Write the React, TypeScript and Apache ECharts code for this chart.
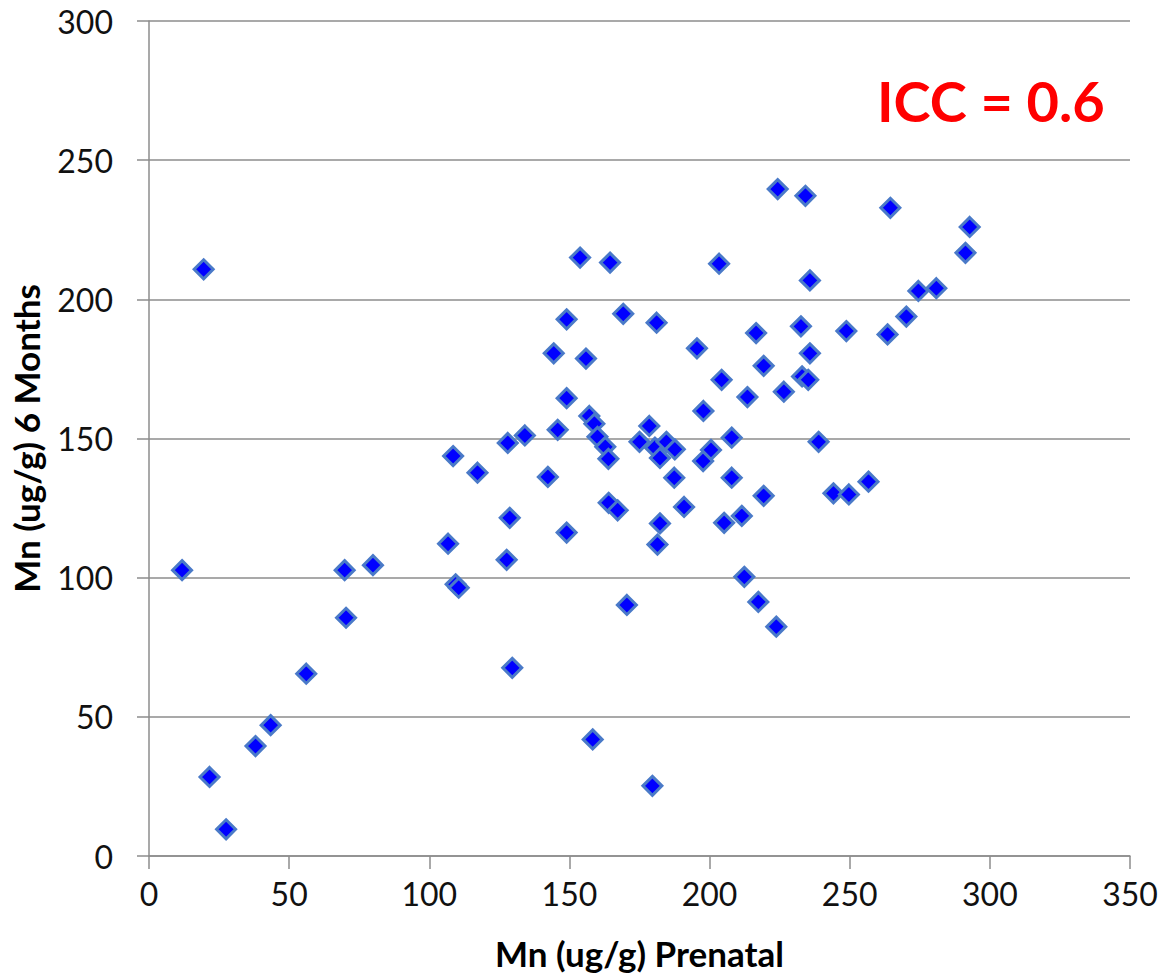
import React, { useEffect, useRef } from "react";
import * as echarts from "echarts";

const prenatal: number[] = [
  11.8, 19.5, 21.6, 27.5, 38, 43.4, 56.1, 69.8, 70.3, 79.9,
  106.7, 108.5, 109.4, 110.5, 117.2, 127.6, 128, 128.7, 129.6, 134.1,
  142.3, 144.4, 145.8, 149, 149, 149, 153.8, 155.9, 157.1, 158.3,
  158.9, 160, 162.8, 163.9, 164, 164.5, 167.2, 169.2, 170.5, 175,
  178.5, 179.6, 180.5, 181.1, 181.4, 182.3, 182.3, 184.6, 187.4, 187.6,
  190.9, 195.5, 197.7, 197.8, 200.5, 203.4, 204.3, 205.2, 207.9, 207.9,
  211.5, 212.4, 213.5, 216.6, 217.4, 219.3, 219.3, 223.8, 224.3, 226.5,
  232.6, 233, 234.2, 235.2, 235.8, 235.8, 238.9, 244.2, 248.8, 249.7,
  256.7, 263.5, 264.5, 270.2, 274.5, 280.9, 291.3, 292.8,
];

const sixMonths: number[] = [
  102.7, 210.8, 28.4, 9.6, 39.5, 47, 65.5, 102.7, 85.6, 104.5,
  112.2, 143.7, 97.6, 96.4, 137.7, 106.4, 148.4, 121.5, 67.6, 151.1,
  136.2, 180.6, 153.1, 192.8, 164.5, 116.2, 215, 178.7, 158.1, 41.9,
  155.3, 150.6, 147, 142.7, 126.9, 213.2, 124.2, 194.8, 90.2, 148.8,
  154.5, 25.2, 146.7, 191.6, 111.9, 143, 119.5, 148.8, 135.9, 146.1,
  125.4, 182.4, 141.9, 159.9, 145.9, 212.8, 171.1, 119.7, 150.3, 135.9,
  122.2, 100.3, 164.9, 187.9, 91.3, 176.1, 129.4, 82.4, 239.6, 166.8,
  190.3, 172.3, 237.2, 171.1, 206.8, 180.6, 148.8, 130.3, 188.6, 129.9,
  134.5, 187.4, 232.9, 193.8, 203, 204, 216.7, 226,
];

const xTitle = "Mn (ug/g) Prenatal";
const yTitle = "Mn (ug/g) 6 Months";
const annotation = "ICC = 0.6";

export default function App() {
  const ref = useRef<HTMLDivElement>(null);

  useEffect(() => {
    if (!ref.current) return;
    const chart = echarts.init(ref.current, undefined, { renderer: "svg" });
    const data = prenatal.map((x, i) => [x, sixMonths[i]]);
    const font = "Lato, 'Open Sans', sans-serif";
    chart.setOption({
      animation: false,
      backgroundColor: "#ffffff",
      grid: { left: 146, right: 38, top: 21, bottom: 124, containLabel: false },
      xAxis: {
        type: "value",
        min: 0,
        max: 350,
        interval: 50,
        name: xTitle,
        nameLocation: "middle",
        nameGap: 79,
        nameTextStyle: { fontFamily: font, fontWeight: "bold", fontSize: 35, color: "#000" },
        axisLine: { show: true, onZero: false, lineStyle: { color: "#8c8c8c", width: 1.5 } },
        axisTick: { show: true, length: 13, inside: false, lineStyle: { color: "#8c8c8c", width: 1.5 } },
        axisLabel: { fontFamily: font, fontSize: 32, color: "#111", margin: 21 },
        splitLine: { show: false },
      },
      yAxis: {
        type: "value",
        min: 0,
        max: 300,
        interval: 50,
        name: yTitle,
        nameLocation: "middle",
        nameGap: 106,
        nameRotate: 90,
        nameTextStyle: { fontFamily: font, fontWeight: "bold", fontSize: 35, color: "#000" },
        axisLine: { show: true, onZero: false, lineStyle: { color: "#8c8c8c", width: 1.5 } },
        axisTick: { show: true, length: 12, inside: false, lineStyle: { color: "#8c8c8c", width: 1.5 } },
        axisLabel: { fontFamily: font, fontSize: 32, color: "#111", margin: 36 },
        splitLine: { show: true, lineStyle: { color: "#8c8c8c", width: 1.5 } },
      },
      series: [
        {
          type: "scatter",
          data,
          symbol: "diamond",
          symbolSize: 19,
          itemStyle: { color: "#0000ff", borderColor: "#4a7ac8", borderWidth: 3, opacity: 1 },
        },
      ],
      graphic: [
        {
          type: "text",
          left: 877,
          top: 72,
          style: {
            text: annotation,
            fontFamily: font,
            fontWeight: "bold",
            fontSize: 56,
            fill: "#ff0000",
          },
        },
      ],
    });
    return () => chart.dispose();
  }, []);

  return (
    <div
      ref={ref}
      style={{ position: "fixed", left: 0, top: 0, width: 1168, height: 980, background: "#fff" }}
    />
  );
}
